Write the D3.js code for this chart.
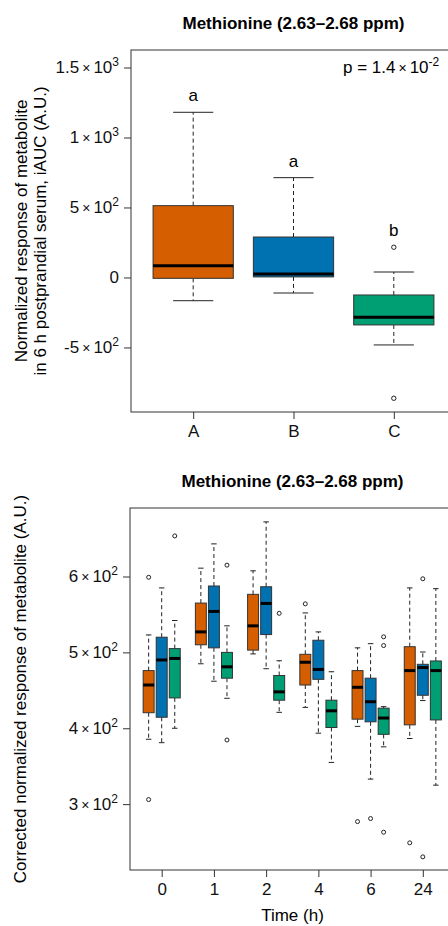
<!DOCTYPE html>
<html>
<head>
<meta charset="utf-8">
<script src="https://cdn.jsdelivr.net/npm/d3@7"></script>
<style>
  body { margin: 0; background: #fff; }
  svg { display: block; font-family: "Liberation Sans", Arial, Helvetica, sans-serif; }
</style>
</head>
<body>
<svg id="chart" width="448" height="926"></svg>
<script>
// ---- data ----
// each box: [lower whisker, Q1, median, Q3, upper whisker]
const groups = ['A', 'B', 'C'];
const groupColors = ['#D55E00', '#0072B2', '#009E73'];
const iaucStats = [
  [-166, -6, 84, 513, 1180],
  [-111, 4, 25, 289, 713],
  [-482, -339, -284, -125, 39],
];
const iaucOutliers = [[], [], [216, -863]];
const iaucLetters = ['a', 'a', 'b'];
const iaucTicks = [-500, 0, 500, 1000, 1500];

const times = ['0', '1', '2', '4', '6', '24'];
const timeStatsA = [
  [385.5, 420.5, 457, 476, 523],
  [485, 510, 527, 565, 611],
  [498, 503, 535, 576.5, 607.5],
  [427.5, 457, 487, 497.5, 552],
  [402.5, 412, 454, 476, 506],
  [386.5, 404.5, 476, 507.5, 585],
];
const timeStatsB = [
  [381, 414.5, 490, 520, 585],
  [462, 506, 554, 587.5, 643],
  [478.5, 523.5, 564.5, 586.5, 672],
  [393.5, 464.5, 477.5, 516, 527],
  [333, 408.5, 435, 466, 511.5],
  [436.5, 443.5, 480, 484.3, 500.5],
];
const timeStatsC = [
  [400, 440, 492, 505, 542],
  [439.5, 466, 481, 500, 535],
  [421, 437, 448, 469.5, 489],
  [355, 401, 423, 437, 474.5],
  [375.5, 392, 413.5, 426.5, 428.5],
  [325, 411, 476, 488.7, 584],
];
const timeOutA = [[599, 306], [], [], [564], [277], [249]];
const timeOutB = [[], [], [], [], [281], [597, 230.5]];
const timeOutC = [[653.5], [615, 384.5], [551.5], [], [520.5, 509, 263], []];
const timeTicks = [300, 400, 500, 600];

// ---- helpers ----
const INK = '#222';
const svg = d3.select('#chart');

// R style "5 x 10^2" labels
const sciLabel = (text, v) => {
  text.text(null);
  if (v === 0) {
    text.text('0');
    return;
  }
  const e = Math.floor(Math.log10(Math.abs(v)));
  const m = +(v / Math.pow(10, e)).toFixed(2);
  text.append('tspan').text(m);
  text.append('tspan').attr('dx', 3).style('font-size', '14px').text('×');
  text.append('tspan').attr('dx', 3).text('10');
  text.append('tspan').attr('dy', -7).style('font-size', '12px').text(e);
};

const drawBox = (g, cx, halfW, capHalf, s, outs, color, y, r) => {
  const [lo, q1, med, q3, hi] = s;
  const dash = '4,3';
  g.append('line')
    .attr('x1', cx).attr('x2', cx)
    .attr('y1', y(q3)).attr('y2', y(hi))
    .attr('stroke', INK).attr('stroke-dasharray', dash);
  g.append('line')
    .attr('x1', cx).attr('x2', cx)
    .attr('y1', y(q1)).attr('y2', y(lo))
    .attr('stroke', INK).attr('stroke-dasharray', dash);
  [lo, hi].forEach((v) => {
    g.append('line')
      .attr('x1', cx - capHalf).attr('x2', cx + capHalf)
      .attr('y1', y(v)).attr('y2', y(v))
      .attr('stroke', INK);
  });
  g.append('rect')
    .attr('x', cx - halfW).attr('width', halfW * 2)
    .attr('y', y(q3)).attr('height', y(q1) - y(q3))
    .attr('fill', color).attr('stroke', '#333').attr('stroke-width', 1);
  g.append('line')
    .attr('x1', cx - halfW).attr('x2', cx + halfW)
    .attr('y1', y(med)).attr('y2', y(med))
    .attr('stroke', '#000').attr('stroke-width', 3);
  g.selectAll(null)
    .data(outs)
    .join('circle')
    .attr('cx', cx).attr('cy', (d) => y(d))
    .attr('r', r)
    .attr('fill', 'none').attr('stroke', INK).attr('stroke-width', 1);
};

const frame = (x, y) => {
  svg.append('rect')
    .attr('x', x.range()[0]).attr('y', y.range()[1])
    .attr('width', x.range()[1] - x.range()[0])
    .attr('height', y.range()[0] - y.range()[1])
    .attr('fill', 'none').attr('stroke', '#333');
};

const styleAxis = (g) => {
  g.select('.domain').remove();
  g.selectAll('.tick line').attr('stroke', '#333');
  g.selectAll('.tick text').attr('fill', '#111').style('font-size', '17px');
};

// ---- top panel: iAUC ----
const xT = d3.scaleLinear().domain([0.38, 3.62]).range([131, 456]);
const yT = d3.scaleLinear().domain([-961, 1625]).range([412, 50]);

svg.append('text')
  .attr('x', 293.5).attr('y', 29)
  .attr('text-anchor', 'middle')
  .style('font-size', '17px').style('font-weight', 'bold')
  .text('Methionine (2.63–2.68 ppm)');

const topG = svg.append('g');
groups.forEach((grp, i) => {
  drawBox(topG, xT(i + 1), (xT(1.4) - xT(1)), (xT(1.2) - xT(1)),
    iaucStats[i], iaucOutliers[i], groupColors[i], yT, 2.2);
  const top = d3.max([iaucStats[i][4], ...iaucOutliers[i]]);
  topG.append('text')
    .attr('x', xT(i + 1)).attr('y', yT(top) - 11)
    .attr('text-anchor', 'middle')
    .style('font-size', '17px')
    .text(iaucLetters[i]);
});

frame(xT, yT);

svg.append('g')
  .attr('transform', `translate(${xT.range()[0]},0)`)
  .call(d3.axisLeft(yT).tickValues(iaucTicks).tickSize(7).tickPadding(5))
  .call(styleAxis)
  .selectAll('.tick text')
  .each(function (d) { sciLabel(d3.select(this), d); });

svg.append('g')
  .attr('transform', `translate(0,${yT.range()[0]})`)
  .call(d3.axisBottom(xT).tickValues([1, 2, 3]).tickSize(7).tickPadding(6)
    .tickFormat((d) => groups[d - 1]))
  .call(styleAxis);

const pText = svg.append('text')
  .attr('x', 343).attr('y', 73)
  .style('font-size', '17px');
pText.append('tspan').text('p = 1.4');
pText.append('tspan').attr('dx', 3).style('font-size', '14px').text('×');
pText.append('tspan').attr('dx', 3).text('10');
pText.append('tspan').attr('dy', -7).style('font-size', '12px').text('-2');

const yLab = svg.append('g').style('font-size', '17px');
yLab.append('text')
  .attr('transform', `translate(27,${(yT.range()[0] + yT.range()[1]) / 2}) rotate(-90)`)
  .attr('text-anchor', 'middle')
  .text('Normalized response of metabolite');
yLab.append('text')
  .attr('transform', `translate(46,${(yT.range()[0] + yT.range()[1]) / 2}) rotate(-90)`)
  .attr('text-anchor', 'middle')
  .text('in 6 h postprandial serum, iAUC (A.U.)');

// ---- bottom panel: time course ----
const xB = d3.scaleLinear().domain([0.393, 6.607]).range([130, 454.5]);
const yB = d3.scaleLinear().domain([213.2, 690.3]).range([870, 508]);

svg.append('text')
  .attr('x', 292.5).attr('y', 487)
  .attr('text-anchor', 'middle')
  .style('font-size', '17px').style('font-weight', 'bold')
  .text('Methionine (2.63–2.68 ppm)');

const botG = svg.append('g');
const series = [
  { stats: timeStatsA, outs: timeOutA, color: groupColors[0], off: -0.25 },
  { stats: timeStatsB, outs: timeOutB, color: groupColors[1], off: 0 },
  { stats: timeStatsC, outs: timeOutC, color: groupColors[2], off: 0.25 },
];
const boxHalf = (xB(1.105) - xB(1));
times.forEach((t, i) => {
  series.forEach((s) => {
    drawBox(botG, xB(i + 1 + s.off), boxHalf, boxHalf / 2,
      s.stats[i], s.outs[i], s.color, yB, 2);
  });
});

frame(xB, yB);

svg.append('g')
  .attr('transform', `translate(${xB.range()[0]},0)`)
  .call(d3.axisLeft(yB).tickValues(timeTicks).tickSize(7).tickPadding(5))
  .call(styleAxis)
  .selectAll('.tick text')
  .each(function (d) { sciLabel(d3.select(this), d); });

svg.append('g')
  .attr('transform', `translate(0,${yB.range()[0]})`)
  .call(d3.axisBottom(xB).tickValues(d3.range(1, 7)).tickSize(7).tickPadding(6)
    .tickFormat((d) => times[d - 1]))
  .call(styleAxis);

svg.append('text')
  .attr('x', 292.5).attr('y', 921)
  .attr('text-anchor', 'middle')
  .style('font-size', '17px')
  .text('Time (h)');

svg.append('text')
  .attr('transform', `translate(25.5,${(yB.range()[0] + yB.range()[1]) / 2}) rotate(-90)`)
  .attr('text-anchor', 'middle')
  .style('font-size', '17px')
  .text('Corrected normalized response of metabolite (A.U.)');
</script>
</body>
</html>
